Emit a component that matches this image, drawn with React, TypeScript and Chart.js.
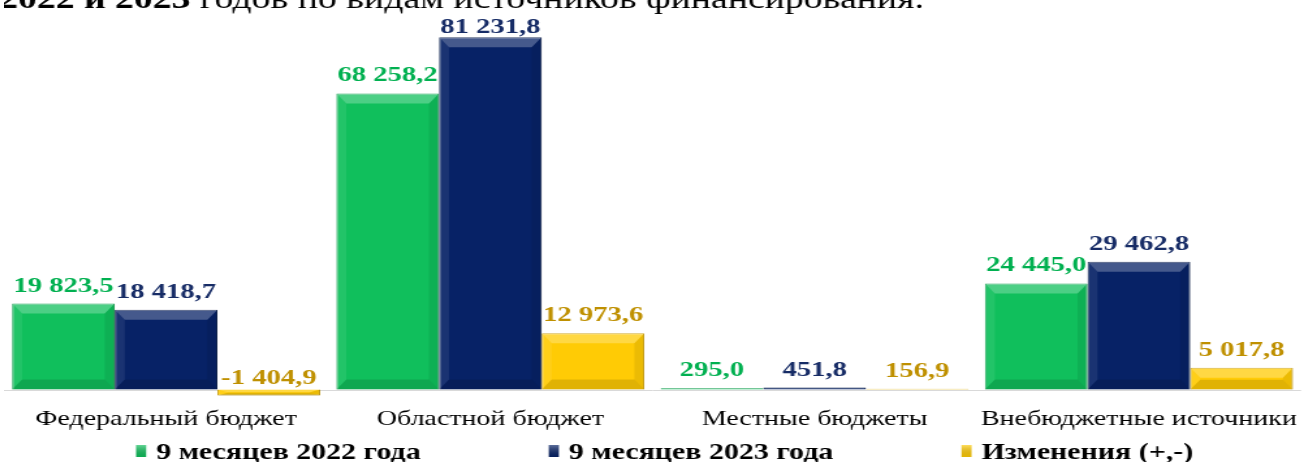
import React, { useEffect, useRef } from "react";
import { Chart, registerables } from "chart.js";

Chart.register(...registerables);

// ---------------- data ----------------
const categories = [
  "Федеральный бюджет",
  "Областной бюджет",
  "Местные бюджеты",
  "Внебюджетные источники",
];
const seriesNames = ["9 месяцев 2022 года", "9 месяцев 2023 года", "Изменения (+,-)"];
const values2022 = [19823.5, 68258.2, 295.0, 24445.0];
const values2023 = [18418.7, 81231.8, 451.8, 29462.8];
const valuesChange = [-1404.9, 12973.6, 156.9, 5017.8];
const titleBold = "2022 и 2023 ";
const titleRest = "годов по видам источников финансирования.";

// ---------------- styles ----------------
const S = 1.3; // horizontal stretch of the whole picture
const OFFSET = 4; // screen px of the plot's left edge
const W = 1302 / S;
const barColors = ["#10BF5C", "#072266", "#FFCB05"];
const borderColors = ["#0A9A48", "#041845", "#C89A00"];
const labelColors = ["#00B050", "#172C66", "#BF9000"];
const SERIF = '"Liberation Serif", "Times New Roman", serif';

function fmt(v: number): string {
  const neg = v < 0;
  const s = Math.abs(v).toFixed(1);
  const [i, d] = s.split(".");
  const ii = i.replace(/\B(?=(\d{3})+(?!\d))/g, " ");
  return (neg ? "-" : "") + ii + "," + d;
}

const zeroLinePlugin = {
  id: "zeroLine",
  beforeDatasetsDraw(chart: any) {
    const { ctx, chartArea, scales } = chart;
    const y = Math.round(scales.y.getPixelForValue(0)) + 0.5;
    ctx.save();
    ctx.strokeStyle = "#D9D9D9";
    ctx.lineWidth = 1;
    ctx.beginPath();
    ctx.moveTo(chartArea.left, y);
    ctx.lineTo(chartArea.right, y);
    ctx.stroke();
    ctx.restore();
  },
};

const bevelPlugin = {
  id: "bevel",
  afterDatasetsDraw(chart: any) {
    const { ctx } = chart;
    chart.data.datasets.forEach((_ds: any, di: number) => {
      const meta = chart.getDatasetMeta(di);
      meta.data.forEach((el: any) => {
        const p = el.getProps(["x", "y", "base", "width"], true);
        const l = p.x - p.width / 2;
        const r = p.x + p.width / 2;
        const t = Math.min(p.y, p.base);
        const b = Math.max(p.y, p.base);
        const h = b - t;
        if (h < 4) return;
        const bh = Math.min(10, h / 2.2);
        const bw = Math.min(10 / S, p.width / 4);
        const poly = (pts: number[][], color: string) => {
          ctx.beginPath();
          ctx.moveTo(pts[0][0], pts[0][1]);
          for (let k = 1; k < pts.length; k++) ctx.lineTo(pts[k][0], pts[k][1]);
          ctx.closePath();
          ctx.fillStyle = color;
          ctx.fill();
        };
        ctx.save();
        poly([[l, t], [r, t], [r - bw, t + bh], [l + bw, t + bh]], "rgba(255,255,255,0.25)");
        poly([[l, t], [l + bw, t + bh], [l + bw, b - bh], [l, b]], "rgba(255,255,255,0.08)");
        poly([[r, t], [r, b], [r - bw, b - bh], [r - bw, t + bh]], "rgba(0,0,0,0.08)");
        poly([[l, b], [l + bw, b - bh], [r - bw, b - bh], [r, b]], "rgba(0,0,0,0.12)");
        ctx.restore();
      });
    });
  },
};

const valueLabelPlugin = {
  id: "valueLabels",
  afterDatasetsDraw(chart: any) {
    const { ctx } = chart;
    ctx.save();
    ctx.font = `bold 22px ${SERIF}`;
    ctx.textAlign = "center";
    ctx.textBaseline = "alphabetic";
    chart.data.datasets.forEach((ds: any, di: number) => {
      const meta = chart.getDatasetMeta(di);
      meta.data.forEach((el: any, i: number) => {
        const v = ds.data[i];
        const p = el.getProps(["x", "y", "base"], true);
        const top = Math.min(p.y, p.base);
        let y = top - (v < 0 ? 6 : 12);
        y = Math.max(y, 33);
        ctx.fillStyle = labelColors[di];
        ctx.fillText(fmt(v), p.x, y);
      });
    });
    ctx.restore();
  },
};

const titlePlugin = {
  id: "cutTitle",
  afterDraw(chart: any) {
    const { ctx } = chart;
    ctx.save();
    ctx.fillStyle = "#000";
    ctx.textBaseline = "alphabetic";
    ctx.textAlign = "left";
    let x = -(OFFSET + 1) / S;
    ctx.font = `bold 29px ${SERIF}`;
    ctx.fillText(titleBold, x, 8);
    x += ctx.measureText(titleBold).width;
    ctx.font = `29px ${SERIF}`;
    ctx.fillText(titleRest, x, 8);
    ctx.restore();
  },
};

const legendPlugin = {
  id: "customLegend",
  afterDraw(chart: any) {
    const { ctx } = chart;
    ctx.save();
    ctx.font = `bold 23px ${SERIF}`;
    ctx.textBaseline = "alphabetic";
    ctx.textAlign = "left";
    const boxW = 10 / S;
    const boxH = 12;
    const gap = 10 / S;
    const spacing = 128 / S;
    const widths = seriesNames.map((n) => boxW + gap + ctx.measureText(n).width);
    const total = widths.reduce((a, b) => a + b, 0) + spacing * (seriesNames.length - 1);
    let x = (664 - OFFSET) / S - total / 2;
    const baseY = 459;
    seriesNames.forEach((n, i) => {
      const g = ctx.createLinearGradient(0, baseY - 14, 0, baseY - 2);
      g.addColorStop(0, "rgba(255,255,255,0.35)");
      g.addColorStop(1, "rgba(0,0,0,0.1)");
      ctx.fillStyle = barColors[i];
      ctx.fillRect(x, baseY - 14, boxW, boxH);
      ctx.fillStyle = g;
      ctx.fillRect(x, baseY - 14, boxW, boxH);
      ctx.fillStyle = "#000";
      ctx.fillText(n, x + boxW + gap, baseY);
      x += widths[i] + spacing;
    });
    ctx.restore();
  },
};

export default function App() {
  const ref = useRef<HTMLCanvasElement>(null);

  useEffect(() => {
    const canvas = ref.current;
    if (!canvas) return;
    const series = [values2022, values2023, valuesChange];
    const chart = new Chart(canvas, {
      type: "bar",
      data: {
        labels: categories,
        datasets: series.map((vals, i) => ({
          label: seriesNames[i],
          data: vals,
          backgroundColor: barColors[i],
          borderColor: borderColors[i],
          borderWidth: 1,
          categoryPercentage: 0.95,
          barPercentage: 1.0,
          clip: false as any,
        })),
      },
      options: {
        animation: false,
        responsive: true,
        maintainAspectRatio: false,
        layout: { padding: { top: 0, left: 0, right: 0, bottom: 22 } },
        plugins: {
          legend: { display: false },
          tooltip: { enabled: false },
          title: { display: false },
        },
        scales: {
          x: {
            grid: { display: false, drawTicks: false },
            border: { display: false },
            ticks: {
              color: "#000",
              font: { family: SERIF, size: 21.5 },
              padding: 8,
              maxRotation: 0,
              autoSkip: false,
            },
          },
          y: {
            display: false,
            min: -2000,
            max: 89800,
          },
        },
      },
      plugins: [zeroLinePlugin, bevelPlugin, valueLabelPlugin, titlePlugin, legendPlugin],
    });
    return () => chart.destroy();
  }, []);

  return (
    <div
      style={{
        position: "fixed",
        left: 0,
        top: 0,
        width: 1302,
        height: 462,
        overflow: "hidden",
        background: "#fff",
      }}
    >
      <div
        style={{
          position: "absolute",
          left: OFFSET,
          top: 0,
          width: W,
          height: 462,
          transform: `scaleX(${S})`,
          transformOrigin: "0 0",
        }}
      >
        <canvas ref={ref} />
      </div>
    </div>
  );
}
